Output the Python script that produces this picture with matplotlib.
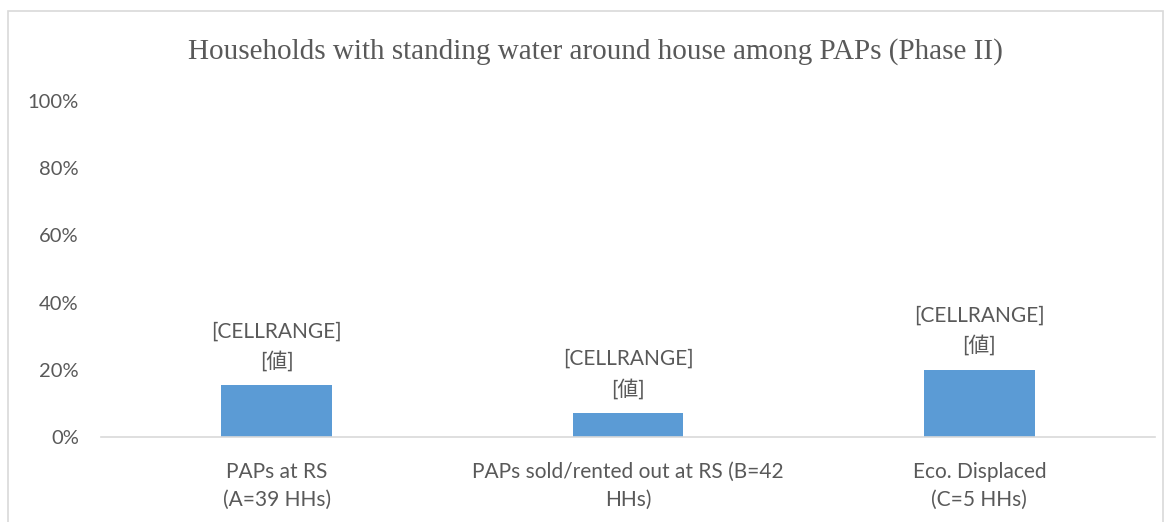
import matplotlib.pyplot as plt
from matplotlib.patches import Rectangle
from matplotlib.ticker import FuncFormatter, MultipleLocator

categories = [
    "PAPs at RS\n(A=39 HHs)",
    "PAPs sold/rented out at RS (B=42\nHHs)",
    "Eco. Displaced\n(C=5 HHs)",
]
values = [0.154, 0.071, 0.20]
bar_labels = ["[CELLRANGE]\n[値]"] * 3

text_color = "#595959"
bar_color = "#5B9BD5"
line_color = "#D9D9D9"
sans = ["Lato", "Noto Sans CJK JP", "DejaVu Sans"]

fig = plt.figure(figsize=(11.71, 5.22), dpi=100)
fig.patches.append(Rectangle((8 / 1171, -0.01), 1155 / 1171, 1 - 11 / 522 + 0.01,
                             transform=fig.transFigure, fill=False,
                             edgecolor=line_color, linewidth=1.2))

ax = fig.add_axes([101 / 1171, 1 - 437 / 522, 1054 / 1171, 336 / 522])
x = range(len(categories))
ax.bar(x, values, width=0.315, color=bar_color, zorder=2)

for xi, v, lab in zip(x, values, bar_labels):
    ax.annotate(lab, (xi, v), xytext=(0, 10), textcoords="offset points",
                ha="center", va="bottom", fontsize=15, color=text_color,
                family=sans, linespacing=1.55)

ax.set_xlim(-0.5, 2.5)
ax.set_ylim(0, 1.0)
ax.yaxis.set_major_locator(MultipleLocator(0.2))
ax.yaxis.set_major_formatter(FuncFormatter(lambda v, p: f"{v * 100:.0f}%"))
ax.set_xticks(list(x))
ax.set_xticklabels(categories, family=sans, fontsize=15, color=text_color,
                   linespacing=1.5)
for t in ax.get_yticklabels():
    t.set_family(sans)
    t.set_fontsize(14.5)
    t.set_color(text_color)
ax.tick_params(axis="both", length=0)
ax.tick_params(axis="x", pad=18)
ax.tick_params(axis="y", pad=16)

for side in ["top", "right", "left"]:
    ax.spines[side].set_visible(False)
ax.spines["bottom"].set_color(line_color)
ax.spines["bottom"].set_linewidth(1.2)

fig.text(595 / 1171, 1 - 52 / 522,
         "Households with standing water around house among PAPs (Phase II)",
         ha="center", va="center", fontsize=21, color=text_color,
         family="Liberation Serif")

fig.savefig("out.png", dpi=100)
